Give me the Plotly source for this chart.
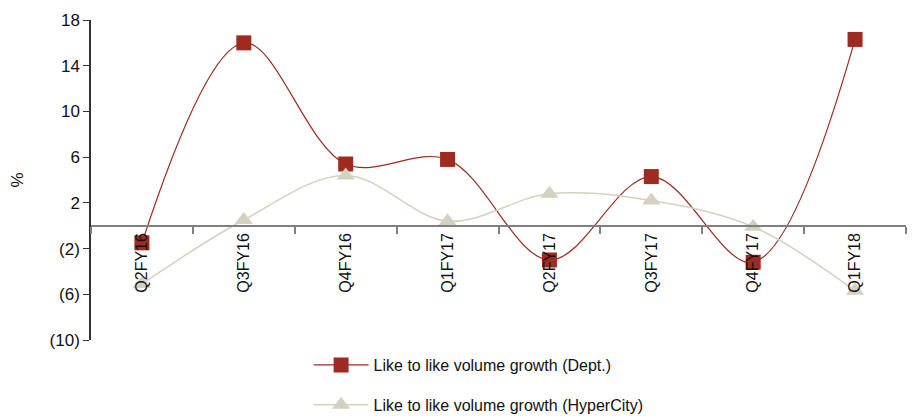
import plotly.graph_objects as go

quarters = ["Q2FY16", "Q3FY16", "Q4FY16", "Q1FY17", "Q2FY17", "Q3FY17", "Q4FY17", "Q1FY18"]
dept = [-1.5, 16.0, 5.4, 5.8, -3.0, 4.3, -3.2, 16.3]
hypercity = [-5.1, 0.5, 4.4, 0.4, 2.8, 2.2, -0.1, -5.7]

y_tickvals = [-10, -6, -2, 2, 6, 10, 14, 18]
y_ticktext = ["(10)", "(6)", "(2)", "2", "6", "10", "14", "18"]

FONT = "Liberation Sans, Arial, sans-serif"
RED = "#9E2A20"
BEIGE = "#D3D1C0"

fig = go.Figure()
fig.add_trace(go.Scatter(
    x=quarters, y=dept, mode="lines+markers",
    name="Like to like volume growth (Dept.)",
    line=dict(color=RED, width=1.2, shape="spline", smoothing=1.0),
    marker=dict(symbol="square", size=15, color=RED),
    legendgroup="a",
))
fig.add_trace(go.Scatter(
    x=quarters, y=hypercity, mode="lines+markers",
    name="Like to like volume growth (HyperCity)",
    line=dict(color=BEIGE, width=1.5, shape="spline", smoothing=1.0),
    marker=dict(symbol="triangle-up", size=16, color=BEIGE),
    legendgroup="b",
))

ymin, ymax = -10, 18
fig.update_layout(
    width=912, height=417,
    margin=dict(l=91, r=6, t=20, b=77, autoexpand=False),
    paper_bgcolor="white", plot_bgcolor="white",
    font=dict(family=FONT, size=16, color="#111111"),
    showlegend=True,
    legend=dict(
        x=0.267, xanchor="left", y=-0.025, yanchor="top",
        traceorder="grouped", tracegroupgap=16,
        font=dict(size=16), itemwidth=55, bgcolor="rgba(0,0,0,0)",
    ),
    xaxis=dict(
        type="category", anchor="free", position=(0 - ymin) / (ymax - ymin),
        showline=True, linecolor="#808080", linewidth=2,
        ticks="outside", tickson="boundaries", ticklen=7, tickcolor="#808080", tickwidth=1.5,
        tickangle=-90, showgrid=False, zeroline=False,
        range=[-0.5, 7.5],
        tickfont=dict(size=16),
    ),
    yaxis=dict(
        range=[ymin, ymax], tickvals=y_tickvals, ticktext=y_ticktext,
        showline=True, linecolor="#333333", linewidth=1.5,
        ticks="outside", ticklen=6, tickcolor="#333333",
        showgrid=False, zeroline=False,
        title=dict(text="%", standoff=22, font=dict(size=17)),
        tickfont=dict(size=17),
    ),
)

fig.write_html("out.html")
